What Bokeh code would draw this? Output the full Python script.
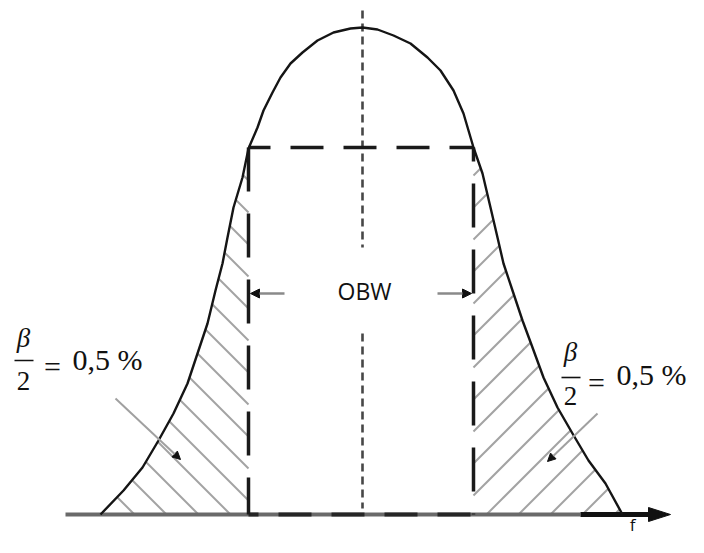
import numpy as np
from bokeh.plotting import figure
from bokeh.models import Range1d, Arrow, NormalHead
from bokeh.core.properties import value
from bokeh.embed import file_html
from bokeh.resources import INLINE

# Spectrum envelope (x to the right, y downwards, px units)
curve_x = [100, 123, 142, 158, 173, 187, 197, 207, 215, 222, 227, 233, 242, 248, 257, 263,
           272, 280, 290, 302, 317, 333, 350, 362, 377, 393, 410, 427, 440, 453, 463, 473,
           482, 490, 497, 503, 512, 522, 532, 543, 557, 572, 588, 605, 622]
curve_y = [514, 490, 467, 440, 413, 383, 353, 323, 290, 263, 237, 207, 177, 148, 127, 110,
           92, 77, 63, 52, 40, 32, 28, 27, 29, 35, 43, 57, 70, 90, 113, 147,
           173, 207, 237, 263, 290, 320, 347, 377, 407, 433, 460, 483, 514]

baseline = 514
axis_start, axis_dark, axis_end = 65, 580, 670
obw_left, obw_right, obw_top = 248, 473, 147
center_x = 362
center_top = [10, 247]
center_bottom = [333, 508]
obw_arrow_y = 293
obw_arrow_len = 36
hatch_step = 32          # spacing of the 45 degree hatch lines
hatch_left_ref = 212     # a left hatch line meets x=obw_left here
hatch_right_ref = 207    # a right hatch line meets x=obw_right here

# pointer arrows to the hatched areas: (x_start, y_start, x_end, y_end)
pointers = [(115, 398, 180, 459), (597, 413, 547, 461)]

obw_text = "OBW"
f_text = "f"
frac_num = "β"
frac_den = "2"
eq_text = "="
pct_text = "0,5 %"
# label anchors (left, right)
frac_cx = [23, 570]
num_y = [337, 351]
bar_y = [360, 377]
den_y = [380, 395]
eq_x = [52, 596]
eq_y = [366, 382]
pct_x = [72, 616]
pct_y = [359, 374]
f_pos = (632, 524)

p = figure(width=688, height=537, x_range=Range1d(0, 688), y_range=Range1d(537, 0),
           output_backend="svg", toolbar_location=None, min_border=0,
           x_axis_type=None, y_axis_type=None)
p.grid.visible = False
p.outline_line_color = None
p.background_fill_color = "white"
p.border_fill_color = "white"

# --- 45 degree hatching clipped to the two tails ---
cx = np.array(curve_x, float)
cy = np.array(curve_y, float)
left = cx <= obw_left
right = cx >= obw_right
lyy, lxx = cy[left][::-1], cx[left][::-1]      # y increasing
ryy, rxx = cy[right], cx[right]                # y increasing
yy = np.arange(obw_top, baseline + 0.01, 0.25)
x_left_edge = np.interp(yy, lyy, lxx)
x_right_edge = np.interp(yy, ryy, rxx)

hx0, hy0, hx1, hy1 = [], [], [], []
# left tail: lines x - y = c
c = obw_left - hatch_left_ref
while c + hatch_step < obw_left - obw_top:
    c += hatch_step
while c > curve_x[0] - baseline:
    xl = yy + c
    inside = (xl >= x_left_edge) & (xl <= obw_left)
    if inside.any():
        ys = yy[inside]
        hx0.append(ys[0] + c); hy0.append(ys[0]); hx1.append(ys[-1] + c); hy1.append(ys[-1])
    c -= hatch_step
# right tail: lines x + y = c
c = obw_right + hatch_right_ref
while c - hatch_step > obw_right + obw_top:
    c -= hatch_step
while c < curve_x[-1] + baseline:
    xr = c - yy
    inside = (xr <= x_right_edge) & (xr >= obw_right)
    if inside.any():
        ys = yy[inside]
        hx0.append(c - ys[0]); hy0.append(ys[0]); hx1.append(c - ys[-1]); hy1.append(ys[-1])
    c += hatch_step
p.segment(hx0, hy0, hx1, hy1, line_color="#a3a3a3", line_width=2)

# axis
p.line([axis_start, axis_dark], [baseline, baseline], line_color="#6a6a6a", line_width=4)
p.line([axis_dark, axis_end - 18], [baseline, baseline], line_color="#111111", line_width=5)
p.patch([axis_end - 22, axis_end, axis_end - 22], [baseline - 7, baseline, baseline + 7],
        fill_color="#111111", line_color="#111111")

# centre line
p.line([center_x, center_x], center_top, line_color="#474747", line_width=2.6, line_dash="8 5")
p.line([center_x, center_x], center_bottom, line_color="#474747", line_width=2.6, line_dash="8 5")

# dashed OBW box
p.line([obw_left, obw_right], [obw_top, obw_top], line_color="#1a1a1a", line_width=3.5,
       line_dash="33 20", line_dash_offset=11)
p.line([obw_left, obw_right], [baseline, baseline], line_color="#262626", line_width=4,
       line_dash="33 20", line_dash_offset=23)
p.line([obw_left, obw_left], [obw_top, baseline], line_color="#1a1a1a", line_width=3.5,
       line_dash="44 22")
p.line([obw_right, obw_right], [obw_top, baseline], line_color="#1a1a1a", line_width=3.5,
       line_dash="44 22", line_dash_offset=30)

# envelope
p.line(curve_x, curve_y, line_color="#151515", line_width=2.4, line_join="round")

# OBW arrows
for xs, xe in [(obw_left + obw_arrow_len, obw_left + 2), (obw_right - obw_arrow_len, obw_right - 2)]:
    p.add_layout(Arrow(end=NormalHead(size=9, fill_color="#111111", line_color="#111111"),
                       x_start=xs, y_start=obw_arrow_y, x_end=xe, y_end=obw_arrow_y,
                       line_color="#8a8a8a", line_width=2.5))
for xs, ys, xe, ye in pointers:
    p.add_layout(Arrow(end=NormalHead(size=8, fill_color="#111111", line_color="#111111"),
                       x_start=xs, y_start=ys, x_end=xe, y_end=ye,
                       line_color="#a0a0a0", line_width=2))

# texts
p.text([center_x + 2], [obw_arrow_y - 3], text=[obw_text], text_font=value("Open Sans"),
       text_font_size="23px", text_align="center", text_baseline="middle", text_color="#111111")
p.text([f_pos[0]], [f_pos[1]], text=[f_text], text_font=value("Open Sans"),
       text_font_size="17px", text_align="center", text_baseline="alphabetic", text_color="#111111")

p.text(frac_cx, num_y, text=[frac_num] * 2, text_font=value("Liberation Serif"),
       text_font_style="italic", text_font_size="27px", text_align="center",
       text_baseline="middle", text_color="#111111")
p.text(frac_cx, den_y, text=[frac_den] * 2, text_font=value("Liberation Serif"),
       text_font_size="27px", text_align="center", text_baseline="middle", text_color="#111111")
p.segment([c - 9 for c in frac_cx], bar_y, [c + 10 for c in frac_cx], bar_y,
          line_color="#111111", line_width=1.6)
p.text(eq_x, eq_y, text=[eq_text] * 2, text_font=value("Liberation Serif"),
       text_font_size="30px", text_align="center", text_baseline="middle", text_color="#111111")
p.text(pct_x, pct_y, text=[pct_text] * 2, text_font=value("Liberation Serif"),
       text_font_size="30px", text_align="left", text_baseline="alphabetic", text_color="#111111")

open("out.html", "w").write(file_html(p, INLINE))
